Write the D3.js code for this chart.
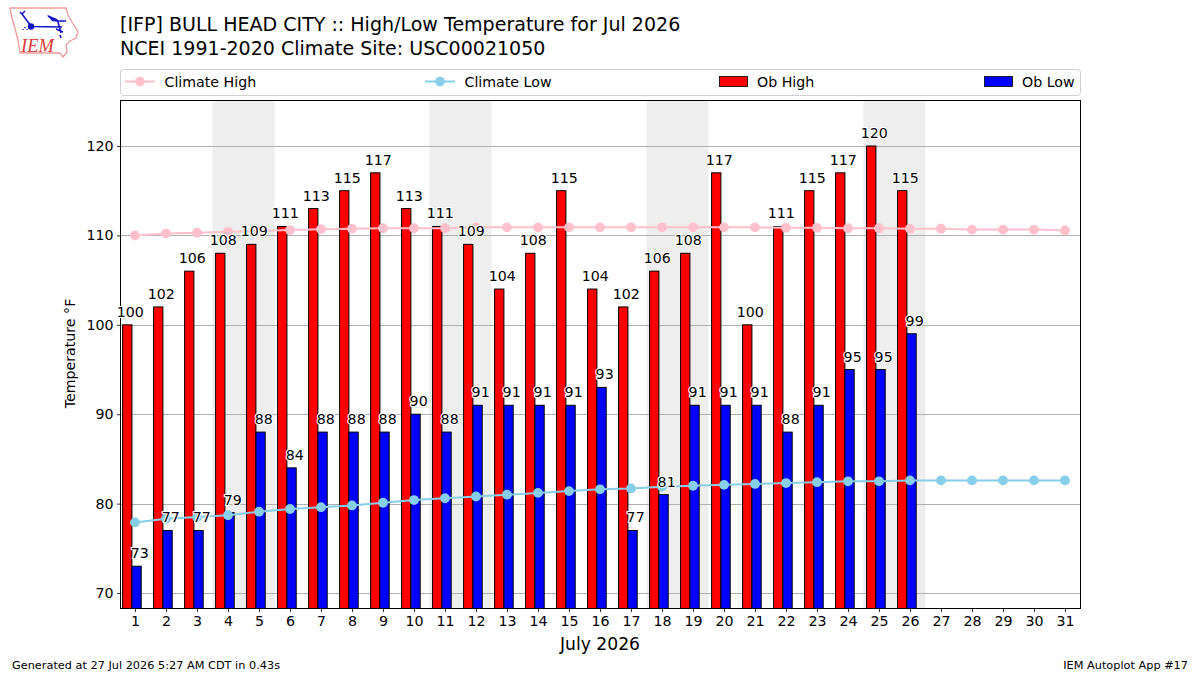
<!DOCTYPE html>
<html>
<head>
<meta charset="utf-8">
<script src="https://cdn.jsdelivr.net/npm/d3@7"></script>
<style>
  html, body { margin: 0; padding: 0; background: #fff; }
  svg { display: block; }
  text { font-family: "DejaVu Sans", sans-serif; fill: #000; }
</style>
</head>
<body>
<svg id="chart" width="1200" height="675"></svg>
<script>
// Daily observations for the month; the last five days have not been reported yet.
const days = d3.range(1, 32);
const obHigh = [100,102,106,108,109,111,113,115,117,113,111,109,104,108,115,104,102,106,108,117,100,111,115,117,120,115];
const obLow = [73,77,77,79,88,84,88,88,88,90,88,91,91,91,91,93,77,81,91,91,91,88,91,95,95,99];
const climateHigh = [110.0,110.2,110.3,110.4,110.5,110.6,110.7,110.75,110.8,110.8,110.8,110.9,110.9,110.9,110.9,110.9,110.9,110.9,110.9,110.9,110.9,110.85,110.85,110.8,110.8,110.75,110.75,110.65,110.65,110.65,110.55];
const climateLow = [77.9,78.3,78.5,78.7,79.1,79.4,79.6,79.8,80.1,80.4,80.6,80.8,81.0,81.2,81.4,81.6,81.7,81.9,82.0,82.1,82.2,82.3,82.4,82.5,82.5,82.6,82.6,82.6,82.6,82.6,82.6];
// Weekend bands, given as the first and last day of each pair.
const weekends = [[4,5],[11,12],[18,19],[25,26]];
const yTicks = [70,80,90,100,110,120];

const titleLines = ["[IFP] BULL HEAD CITY :: High/Low Temperature for Jul 2026", "NCEI 1991-2020 Climate Site: USC00021050"];
const footerLeft = "Generated at 27 Jul 2026 5:27 AM CDT in 0.43s";
const footerRight = "IEM Autoplot App #17";

const plotLeft = 120.5, plotRight = 1080.5, plotTop = 100.5, plotBottom = 608.5;
const barW = 0.3;
const labelSize = "14.2px";
const svg = d3.select("#chart");

const x = d3.scaleLinear().domain([0.532, 31.5]).range([plotLeft, plotRight]);
const y = d3.scaleLinear().domain([68.27, 125.09]).range([plotBottom, plotTop]);

// Iowa outline logo in the corner
const logo = svg.append("g");
logo.append("path")
  .attr("d", "M10,8 L66,8 L68,15 L72,22 L78,32 L76,38 L70,41 L66,45 L67,52 L63,57 L60,53 L20,53 L18,40 L15,28 L12,18 Z")
  .attr("fill", "#fff").attr("stroke", "#ee9a9a").attr("stroke-width", 1.3);
logo.append("path")
  .attr("d", "M31,26.5 L62,27 M31,26 L22,14 L20,12 M22,14 L25,11 M58,22 L61,33 M48,16 L58,21 L66,21 M56,29 L63,32 M60,35 L61,38")
  .attr("fill", "none").attr("stroke", "#1414c8").attr("stroke-width", 1.6);
logo.append("path").attr("d", "M47,15 L57,19 L58,22 L52,21 Z").attr("fill", "#1414c8");
logo.append("circle").attr("cx", 31).attr("cy", 26.5).attr("r", 3.2).attr("fill", "#1414c8");
logo.append("path").attr("d", "M23,29 v1 M25,27 v1 M27,29 v1").attr("stroke", "#1414c8").attr("stroke-width", 1.5);
logo.append("text").attr("x", 21).attr("y", 52)
  .style("font-family", "'Liberation Serif', serif").style("font-style", "italic")
  .style("font-size", "18.5px").style("fill", "#d83a3a").text("IEM");

// Two-line heading
svg.selectAll("text.title").data(titleLines).join("text").attr("class", "title")
  .attr("x", 120).attr("y", (d, i) => 31 + i * 24)
  .style("font-size", "19.05px").text(d => d);

// Legend strip above the axes
const legend = svg.append("g");
legend.append("rect").attr("x", 120.5).attr("y", 69.5).attr("width", 960).attr("height", 26).attr("rx", 3)
  .attr("fill", "#fff").attr("stroke", "#d0d0d0");
[["Climate High", "#ffc0cb", 125], ["Climate Low", "#87ceeb", 425]].forEach(([label, color, lx]) => {
  legend.append("line").attr("x1", lx).attr("x2", lx + 30).attr("y1", 81.5).attr("y2", 81.5)
    .attr("stroke", color).attr("stroke-width", 2);
  legend.append("circle").attr("cx", lx + 15).attr("cy", 81.5).attr("r", 4.8).attr("fill", color);
  legend.append("text").attr("x", lx + 39.5).attr("y", 86.5).style("font-size", labelSize).text(label);
});
[["Ob High", "#ff0000", 719.5], ["Ob Low", "#0000ff", 984.5]].forEach(([label, color, lx]) => {
  legend.append("rect").attr("x", lx).attr("y", 76.5).attr("width", 28).attr("height", 10)
    .attr("fill", color).attr("stroke", "#000").attr("stroke-width", 0.8);
  legend.append("text").attr("x", lx + 37.5).attr("y", 86.5).style("font-size", labelSize).text(label);
});

// Weekend shading sits underneath the grid
svg.append("g").selectAll("rect").data(weekends).join("rect")
  .attr("x", d => x(d[0] - 0.5))
  .attr("width", d => x(d[1] + 0.5) - x(d[0] - 0.5))
  .attr("y", plotTop).attr("height", plotBottom - plotTop)
  .attr("fill", "#eeeeee");

// Horizontal grid lines
svg.append("g").selectAll("line").data(yTicks).join("line")
  .attr("x1", plotLeft).attr("x2", plotRight)
  .attr("y1", d => Math.round(y(d)) + 0.5).attr("y2", d => Math.round(y(d)) + 0.5)
  .attr("stroke", "#b0b0b0").attr("stroke-width", 1);

// Observed high and low bars, clipped to the axes
svg.append("clipPath").attr("id", "plot").append("rect")
  .attr("x", plotLeft).attr("y", plotTop).attr("width", plotRight - plotLeft).attr("height", plotBottom - plotTop);
const marks = svg.append("g").attr("clip-path", "url(#plot)");

const highs = obHigh.map((v, i) => ({ day: days[i], v }));
const lows = obLow.map((v, i) => ({ day: days[i], v }));

function drawBars(rows, offset, color) {
  marks.append("g").selectAll("rect").data(rows).join("rect")
    .attr("x", d => x(d.day + offset))
    .attr("width", x(barW) - x(0))
    .attr("y", d => y(d.v))
    .attr("height", d => plotBottom - y(d.v))
    .attr("fill", color).attr("stroke", "#000").attr("stroke-width", 1);
}
drawBars(highs, -0.4, "#ff0000");
drawBars(lows, -0.1, "#0000ff");

// Climatology lines with round markers
function drawClimate(values, color) {
  const line = d3.line().x((d, i) => x(days[i])).y(d => y(d));
  marks.append("path").attr("d", line(values)).attr("fill", "none")
    .attr("stroke", color).attr("stroke-width", 2);
  marks.append("g").selectAll("circle").data(values).join("circle")
    .attr("cx", (d, i) => x(days[i])).attr("cy", d => y(d)).attr("r", 4.9).attr("fill", color);
}
drawClimate(climateHigh, "#ffc0cb");
drawClimate(climateLow, "#87ceeb");

// Axes frame and ticks
const xAxis = d3.axisBottom(x).tickValues(days).tickFormat(d3.format("d")).tickSize(3.5).tickPadding(3.5);
const gx = svg.append("g").attr("transform", `translate(0,${plotBottom})`).call(xAxis);
const yAxis = d3.axisLeft(y).tickValues(yTicks).tickSize(3.5).tickPadding(3.5);
const gy = svg.append("g").attr("transform", `translate(${plotLeft},0)`).call(yAxis);
[gx, gy].forEach(g => {
  g.select(".domain").remove();
  g.selectAll("text").style("font-size", labelSize).style("font-family", "'DejaVu Sans', sans-serif");
  g.selectAll("line").attr("stroke", "#000").attr("stroke-width", 0.8);
});
svg.append("rect").attr("x", plotLeft).attr("y", plotTop).attr("width", plotRight - plotLeft).attr("height", plotBottom - plotTop)
  .attr("fill", "none").attr("stroke", "#000").attr("stroke-width", 1);

svg.append("text").attr("x", 600).attr("y", 649.5).attr("text-anchor", "middle")
  .style("font-size", "17.2px").text("July 2026");
svg.append("text").attr("transform", "translate(75,353.5) rotate(-90)").attr("text-anchor", "middle")
  .style("font-size", labelSize).text("Temperature °F");

// Value labels with a white halo, on top of everything in the plot
function drawLabels(rows, offset) {
  svg.append("g").selectAll("text").data(rows).join("text")
    .attr("x", d => x(d.day + offset))
    .attr("y", d => y(d.v) - 8)
    .attr("text-anchor", "middle")
    .attr("stroke", "#fff").attr("stroke-width", 2.2).attr("paint-order", "stroke")
    .style("font-size", labelSize)
    .text(d => d.v);
}
drawLabels(highs, -0.15);
drawLabels(lows, 0.15);

// Footer notes
svg.append("text").attr("x", 12).attr("y", 669).style("font-size", "11.3px").text(footerLeft);
svg.append("text").attr("x", 1188).attr("y", 669).attr("text-anchor", "end").style("font-size", "11.3px").text(footerRight);
</script>
</body>
</html>
